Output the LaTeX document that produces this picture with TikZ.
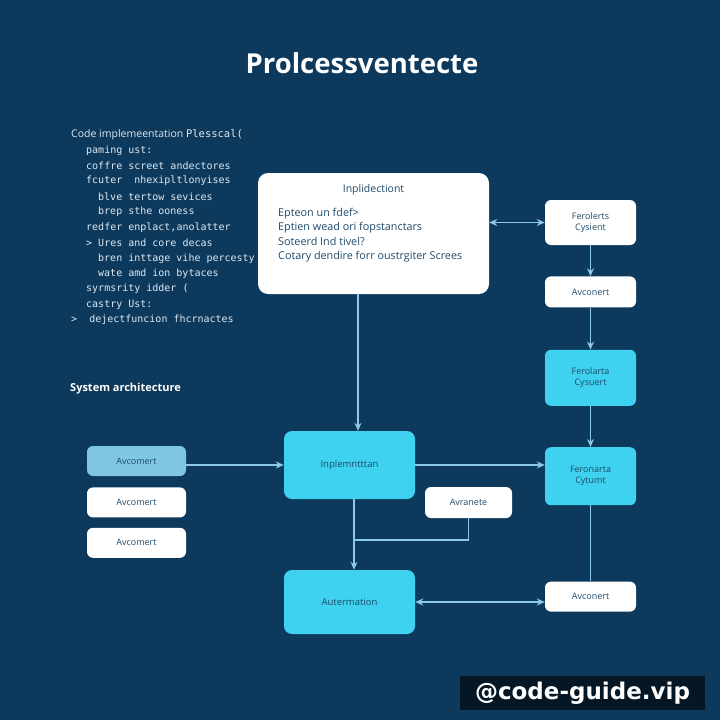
\documentclass[tikz,border=0pt]{standalone}
\usepackage{fontspec}
\setmainfont{Open Sans}
\newfontfamily\codefont{DejaVu Sans Mono}
\newfontfamily\markfont{DejaVu Sans}
\usetikzlibrary{positioning,arrows.meta}
\definecolor{navy}{HTML}{0D395C}
\definecolor{cyanbox}{HTML}{3FD2F0}
\definecolor{paleblue}{HTML}{7FC6E4}
\definecolor{wire}{HTML}{8CC8EA}
\definecolor{boxtext}{HTML}{1F4A6B}
\definecolor{codetext}{HTML}{DDE9F3}

\begin{document}
\begin{tikzpicture}[x=1pt, y=-1pt,
    >={Stealth[length=8pt, width=7pt]},
    box/.style={rounded corners=6pt, align=center, inner sep=2pt, text=boxtext,
                font=\fontsize{9}{11}\selectfont, minimum width=91pt},
    wbox/.style={box, fill=white},
    cbox/.style={box, fill=cyanbox},
    link/.style={->, draw=wire, line width=1.4pt},
    both/.style={<->, draw=wire, line width=1.4pt},
    plain/.style={draw=wire, line width=1.4pt},
    codeline/.style={anchor=west, inner sep=0pt, text=codetext,
                     font=\codefont\fontsize{10}{12}\selectfont}]
  \fill[navy] (0,0) rectangle (720,720);
  \node[font=\bfseries\fontsize{27.5}{32}\selectfont, text=white] (title) at (362,63) {Prolcessventecte};
  % code listing on the left
  \node[codeline, font=\fontsize{10.5}{12}\selectfont] (code0) at (71,135) {Code implemeentation {\codefont Plesscal(}};
  \foreach \x/\y/\t [count=\i] in {86/150.5/{paming ust:}, 86/166/{coffre screet andectores},
      86/181/{fcuter\ \ nhexipltlonyises}, 98/197/{blve tertow sevices}, 98/212/{brep sthe ooness},
      86/228/{redfer enplact,anolatter}, 86/243/{> Ures and core decas},
      98/258.5/{bren inttage vihe percesty}, 98/274/{wate amd ion bytaces},
      86/289/{syrmsrity idder (}, 86/305/{castry Ust:}, 71/320/{>\ \ dejectfuncion fhcrnactes}}
    \node[codeline] (code\i) at (\x,\y) {\t};
  % big white panel
  \node[wbox, rounded corners=10pt, minimum width=231pt, minimum height=121pt] (big) at (373.5,233.5) {};
  \node[text=boxtext, font=\fontsize{10.5}{12}\selectfont] (bigtitle) at (373.5,190) {Inplidectiont};
  \node[anchor=north west, align=left, inner sep=0pt, text=boxtext,
        font=\fontsize{10.8}{14.3}\selectfont] (bigtext) at (278,208)
    {Epteon un fdef>\\Eptien wead ori fopstanctars\\Soteerd Ind tivel?\\Cotary dendire forr oustrgiter Screes};
  % right column
  \node[wbox, minimum height=45pt] (rt1) at (590.5,222.5) {Ferolerts\\Cysient};
  \node[wbox, minimum height=31pt, below=31pt of rt1] (rt2) {Avconert};
  \node[cbox, minimum height=56pt, below=42pt of rt2] (rt3) {Ferolarta\\Cysuert};
  \node[cbox, minimum height=58pt, below=41pt of rt3] (rt4) {Feronarta\\Cytumt};
  \node[wbox, minimum height=30pt, below=76pt of rt4] (rt5) {Avconert};
  % middle column
  \node[cbox, rounded corners=8pt, minimum width=131pt, minimum height=68pt,
        font=\fontsize{9.5}{11}\selectfont] (impl) at (349.5,465) {Inplemntttan};
  \node[cbox, rounded corners=8pt, minimum width=131pt, minimum height=64pt,
        font=\fontsize{9.5}{11}\selectfont] (aut) at (349.5,602) {Autermation};
  \node[wbox, minimum width=87pt, minimum height=31pt] (avr) at (468.5,502.5) {Avranete};
  % left column
  \node[font=\bfseries\fontsize{11}{13}\selectfont, text=white, anchor=west, inner sep=0pt] (sys) at (70,389) {System architecture};
  \node[box, fill=paleblue, minimum width=99pt, minimum height=30pt] (l1) at (136.5,461) {Avcomert};
  \node[wbox, minimum width=99pt, minimum height=30pt, below=11pt of l1] (l2) {Avcomert};
  \node[wbox, minimum width=99pt, minimum height=30pt, below=10pt of l2] (l3) {Avcomert};
  % connectors
  \draw[both] (big.east |- rt1.west) -- (rt1.west);
  \draw[link] (rt1) -- (rt2);
  \draw[link] (rt2) -- (rt3);
  \draw[link] (rt3) -- (rt4);
  \draw[plain] (rt4) -- (rt5);
  \draw[link] ([xshift=-15.5pt]big.south) -- ([xshift=-15.5pt]big.south |- impl.north);
  \draw[link] (l1.east |- impl) -- (impl.west);
  \draw[link] (impl.east) -- (impl.east -| rt4.west);
  \draw[link] ([xshift=4.5pt]impl.south) -- ([xshift=4.5pt]aut.north);
  \coordinate (join) at (354,540);
  \draw[plain] (avr.south) |- (join);
  \draw[both] (aut.east) -- (aut.east -| rt5.west);
  % watermark
  \node[fill=black!60!navy, text=white, font=\markfont\bfseries\fontsize{23}{26}\selectfont,
        minimum width=245pt, minimum height=34pt, inner sep=0pt] (mark) at (582.5,693) {@code-guide.vip};
\end{tikzpicture}
\end{document}
